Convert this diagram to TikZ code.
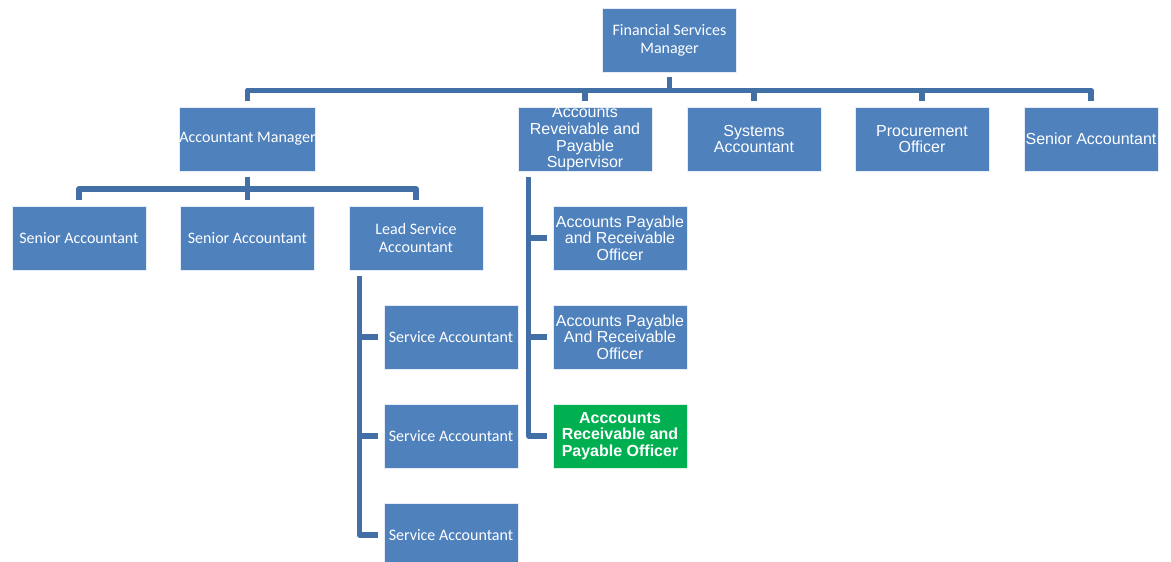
\documentclass[tikz,border=0pt]{standalone}
\usepackage{fontspec}
\newfontfamily\calfont{Carlito}
\newfontfamily\arifont{Liberation Sans}
\definecolor{boxblue}{RGB}{79,129,189}
\definecolor{lineblue}{RGB}{66,112,166}
\definecolor{boxgreen}{RGB}{0,176,80}
\begin{document}
\begin{tikzpicture}[x=1pt,y=-1pt,
  box/.style={fill=boxblue, draw=white!85!boxblue, line width=0.6pt, minimum width=134pt, minimum height=64pt,
    inner sep=0pt, text=white, align=center},
  cal/.style={font=\calfont\fontsize{16}{17.7}\selectfont},
  ari/.style={font=\arifont\fontsize{16}{16.6}\selectfont},
  greenbox/.style={box, fill=boxgreen, draw=white!85!boxgreen, font=\arifont\bfseries\fontsize{16}{16.5}\selectfont},
  conn/.style={draw=lineblue, line width=5.5pt, line join=round}]
\useasboundingbox (0,0) rectangle (1171,562);
\fill[white] (0,0) rectangle (1171,562);
% nodes
\node[box,cal] (fsm) at (669.5,40) {Financial Services\\Manager};
\node[box,cal] (am) at (247.5,139) {Accountant Manager};
\node[box,ari] (sup) at (585,139) {Accounts\\Reveivable and\\Payable\\Supervisor};
\node[box,ari] (sys) at (754,139) {Systems\\Accountant};
\node[box,ari] (proc) at (922,139) {Procurement\\Officer};
\node[box,ari] (sr) at (1091,139) {Senior Accountant};
\node[box,cal] (sra) at (79,238) {Senior Accountant};
\node[box,cal] (srb) at (247.5,238) {Senior Accountant};
\node[box,cal] (lead) at (416,238) {Lead Service\\Accountant};
\node[box,cal] (sa1) at (451,337) {Service Accountant};
\node[box,cal] (sa2) at (451,436) {Service Accountant};
\node[box,cal] (sa3) at (451,535) {Service Accountant};
\node[box,ari] (ap1) at (620,238) {Accounts Payable\\and Receivable\\Officer};
\node[box,ari] (ap2) at (620,337) {Accounts Payable\\And Receivable\\Officer};
\node[greenbox] (ap3) at (620,436) {Acccounts\\Receivable and\\Payable Officer};
% top level connectors
\foreach \c in {am,sup,sys,proc,sr}
  \draw[conn] ([yshift=-5pt]fsm.south) -- ++(0,13) -| ([yshift=6pt]\c.north);
% accountant manager connectors
\foreach \c in {sra,srb,lead}
  \draw[conn] ([yshift=-6pt]am.south) -- ++(0,11.5) -| ([yshift=6pt]\c.north);
% lead service accountant side tree
\foreach \c in {sa1,sa2,sa3}
  \draw[conn] ([xshift=11pt,yshift=-6pt]lead.south west) |- ([xshift=-6pt]\c.west);
% supervisor side tree
\foreach \c in {ap1,ap2,ap3}
  \draw[conn] ([xshift=11pt,yshift=-6pt]sup.south west) |- ([xshift=-6pt]\c.west);
\end{tikzpicture}
\end{document}
